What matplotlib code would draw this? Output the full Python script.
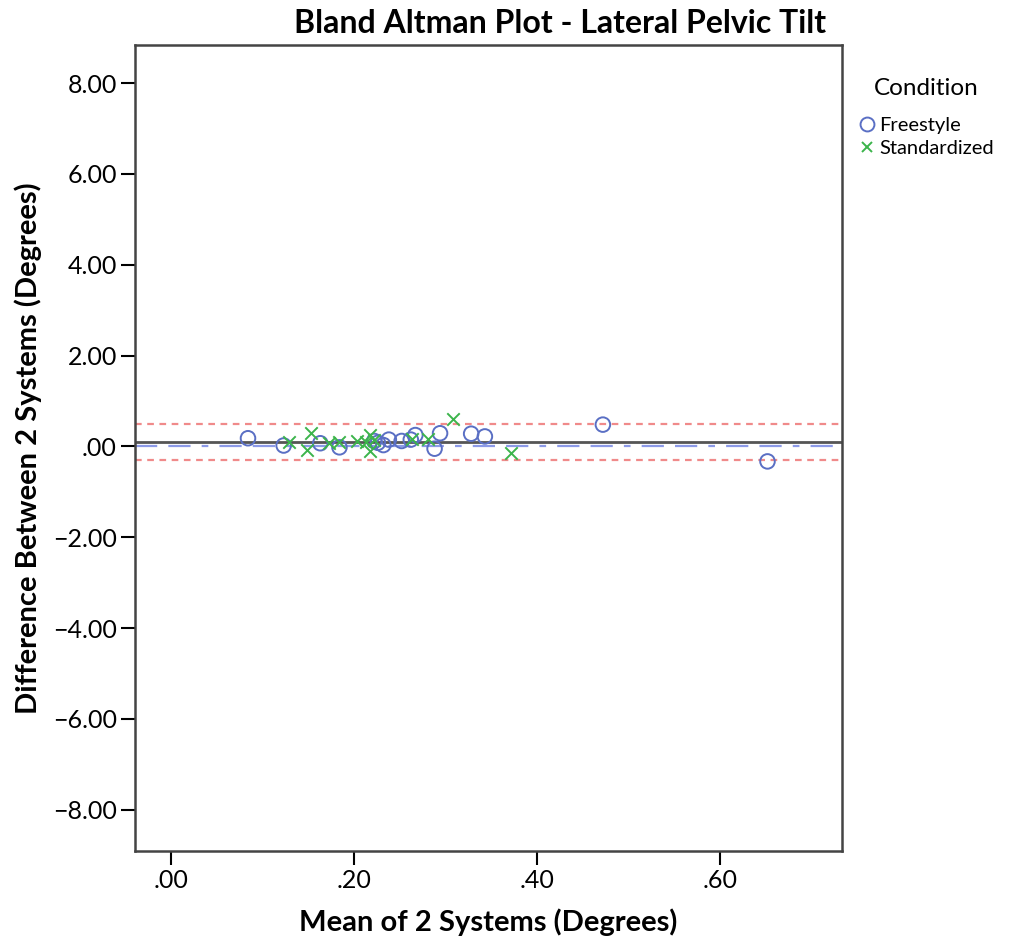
import matplotlib
matplotlib.use("Agg")
import matplotlib.pyplot as plt
from matplotlib.lines import Line2D

plt.rcParams['font.family'] = ['Lato', 'DejaVu Sans']

# Freestyle condition (circles)
free_mean = [0.084, 0.123, 0.163, 0.184, 0.222, 0.226, 0.232, 0.238, 0.252, 0.262,
             0.267, 0.288, 0.294, 0.328, 0.343, 0.472, 0.652]
free_diff = [0.18, 0.02, 0.07, -0.02, 0.12, 0.08, 0.03, 0.15, 0.12, 0.15,
             0.25, -0.05, 0.29, 0.28, 0.22, 0.48, -0.33]

# Standardized condition (crosses)
std_mean = [0.129, 0.148, 0.153, 0.173, 0.183, 0.203, 0.213, 0.217, 0.2175, 0.222,
            0.263, 0.281, 0.308, 0.372]
std_diff = [0.09, -0.08, 0.30, 0.07, 0.10, 0.13, 0.10, 0.25, -0.11, 0.14,
            0.17, 0.16, 0.60, -0.15]

mean_diff = 0.095
upper_loa = 0.49
lower_loa = -0.30

xticks = [0.0, 0.2, 0.4, 0.6]
xticklabels = ['.00', '.20', '.40', '.60']
yticks = [8, 6, 4, 2, 0, -2, -4, -6, -8]
yticklabels = ['8.00', '6.00', '4.00', '2.00', '.00', '\u22122.00', '\u22124.00', '\u22126.00', '\u22128.00']

fig = plt.figure(figsize=(10.1, 9.41), dpi=100)
ax = fig.add_axes([0.1337, 0.0956, 0.7, 0.8566])

ax.axhline(0, color='#8c9ae8', lw=1.6, dashes=(10, 5, 10, 5, 3, 5))
ax.axhline(upper_loa, color='#f08a8a', lw=1.6, dashes=(3, 2.5))
ax.axhline(lower_loa, color='#f08a8a', lw=1.6, dashes=(3, 2.5))
ax.axhline(mean_diff, color='#555555', lw=2.0)

ax.scatter(free_mean, free_diff, s=110, facecolors='none', edgecolors='#5a6fc4', linewidths=1.4, zorder=3)
ax.scatter(std_mean, std_diff, s=80, marker='x', color='#3cb44b', linewidths=1.4, zorder=3)

ax.set_xlim(-0.0395, 0.7335)
ax.set_ylim(-8.91, 8.84)
ax.set_xticks(xticks)
ax.set_xticklabels(xticklabels)
ax.set_yticks(yticks)
ax.set_yticklabels(yticklabels)
ax.tick_params(axis='both', length=10, width=1.5, labelsize=18, pad=3)

for sp in ax.spines.values():
    sp.set_linewidth(1.8)
    sp.set_color('#444444')

ax.set_xlabel('Mean of 2 Systems (Degrees)', fontsize=21, fontweight='bold', labelpad=12)
ax.set_ylabel('Difference Between 2 Systems (Degrees)', fontsize=21, fontweight='bold', labelpad=8)
fig.text(0.555, 0.975, 'Bland Altman Plot - Lateral Pelvic Tilt', fontsize=23, fontweight='bold',
         ha='center', va='center')

handles = [Line2D([], [], ls='none', marker='o', ms=10, mfc='none', mec='#5a6fc4', mew=1.4),
           Line2D([], [], ls='none', marker='x', ms=7, color='#3cb44b', mew=1.4)]
leg = fig.legend(handles, ['Freestyle', 'Standardized'], title='Condition',
                 loc='upper left', bbox_to_anchor=(0.839, 0.928), frameon=False,
                 fontsize=14.5, title_fontsize=17.5, handletextpad=0.2, handlelength=0.9,
                 borderpad=0, labelspacing=0.3)
leg._legend_box.align = 'center'
leg._legend_box.sep = 13

fig.savefig('out.png', dpi=100)
